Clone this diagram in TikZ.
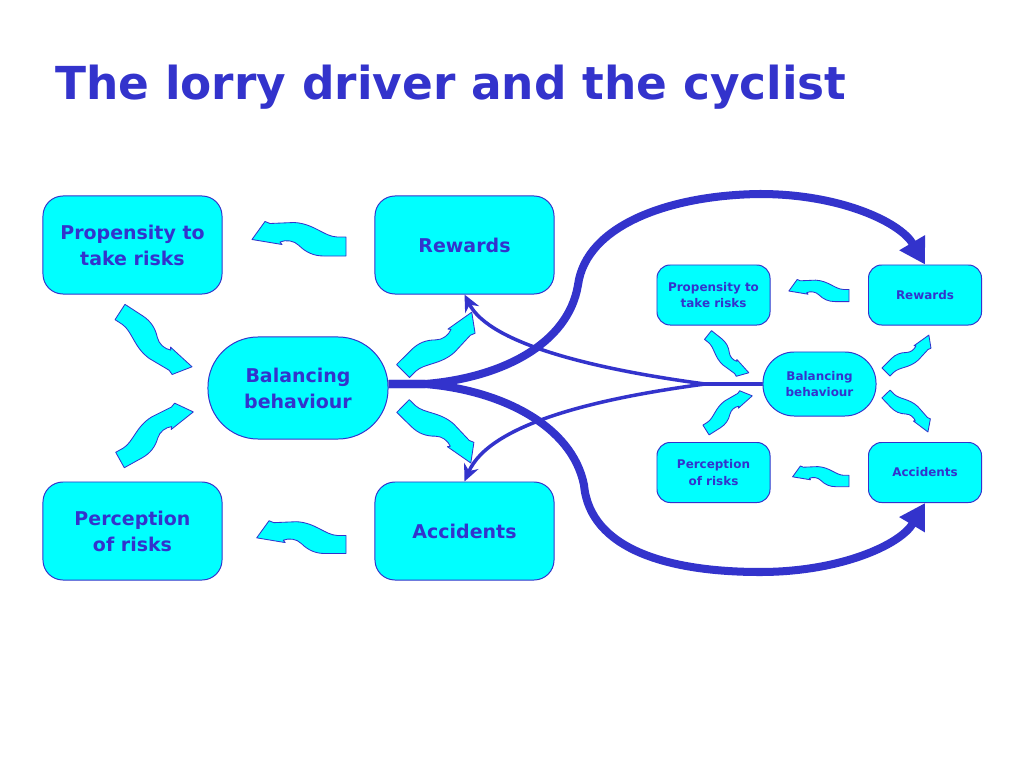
\documentclass[tikz,border=0pt]{standalone}
\usepackage{fontspec}
\setmainfont{DejaVu Sans}
\usetikzlibrary{arrows.meta,calc}
\definecolor{rblue}{RGB}{51,51,204}
\definecolor{rcyan}{RGB}{0,255,255}
\begin{document}
\begin{tikzpicture}[x=0.025cm, y=-0.025cm, line join=round, >=Stealth,
	box/.style={draw=rblue, line width=0.7pt, fill=rcyan, text=rblue, align=center, inner sep=0pt,
		rounded corners=0.5cm, minimum width=4.475cm, minimum height=2.45cm,
		font=\fontsize{13.5}{18.5}\selectfont\bfseries},
	bigbal/.style={box, rounded corners=1.25cm, minimum width=4.5cm, minimum height=2.55cm},
	sbox/.style={box, rounded corners=0.33cm, minimum width=2.825cm, minimum height=1.5cm,
		font=\fontsize{8.5}{11.5}\selectfont\bfseries},
	sbal/.style={sbox, rounded corners=0.78cm, minimum height=1.6cm},
	bigflow/.style={rblue, line width=5.7pt, -{Triangle[length=18pt,width=20pt]}},
	flow/.style={rblue, line width=2.5pt, -{Stealth[length=12pt,width=11pt]}},
	wave/.pic={\filldraw[draw=rblue, fill=rcyan, line width=0.6pt] (0,-9.5) -- (0,9.5) -- (9,9.5)
		.. controls (22,10) and (32,23) .. (52,24) -- (76,23) -- (81,25) -- (94,7) -- (64,2) -- (66,4.5)
		.. controls (60,7) and (52,6) .. (47,1) .. controls (40,-6) and (32,-9.5) .. (22,-9.5) -- cycle;}]
	\fill[white] (0,0) rectangle (1024,768);
	\useasboundingbox (0,0) rectangle (1024,768);
	\node[anchor=base west, inner sep=0pt, text=rblue, font=\fontsize{32.3}{40}\selectfont\bfseries] (title) at (55,100) {The lorry driver and the cyclist};
	% lorry driver
	\node[box] (prop) at (132.5,245) {Propensity to\\take risks};
	\node[box] (rew) at (464.5,245) {Rewards};
	\node[bigbal] (bal) at (298,388) {Balancing\\behaviour};
	\node[box] (perc) at (132.5,531) {Perception\\ of risks};
	\node[box] (acc) at (464.5,531) {Accidents};
	\pic[rotate=180] at (346,246.5) {wave};
	\pic[rotate=-33, scale=.96] at (120,312) {wave};
	\pic[rotate=29, yscale=-1, scale=.93] at (120,460) {wave};
	\pic[rotate=44.8, scale=.96] at (403,371) {wave};
	\pic[rotate=-44.3, yscale=-1, scale=.94] at (403,406) {wave};
	\pic[rotate=180, scale=.95] at (346,544.5) {wave};
	% cyclist
	\node[sbox] (sprop) at (713.5,295) {Propensity to\\take risks};
	\node[sbox] (srew) at (925,295) {Rewards};
	\node[sbal] (sbal) at (819.5,384) {Balancing\\behaviour};
	\node[sbox] (sperc) at (713.5,472.5) {Perception\\ of risks};
	\node[sbox] (sacc) at (925,472.5) {Accidents};
	\pic[rotate=180, scale=.64] at (849,295.5) {wave};
	\pic[rotate=-38.5, scale=.59] at (708,335) {wave};
	\pic[rotate=32.2, yscale=-1, scale=.61] at (706,430) {wave};
	\pic[rotate=45, scale=.6] at (886,372) {wave};
	\pic[rotate=-46.4, yscale=-1, scale=.6] at (886,394) {wave};
	\pic[rotate=180, scale=.6] at (849,481) {wave};
	% links between the two
	\coordinate (fork) at (425,384);
	\coordinate (join) at (705,384);
	\draw[bigflow] (bal.east |- fork) -- (fork) .. controls (500,378) and (568,345) .. (578,285)
		.. controls (586,225) and (670,195) .. (760,194) .. controls (840,194) and (900,222) .. (srew.north);
	\draw[bigflow] (bal.east |- fork) -- (fork) .. controls (500,390) and (572,425) .. (584,485)
		.. controls (590,550) and (670,572) .. (760,572) .. controls (840,572) and (900,545) .. (sacc.south);
	\draw[flow] (sbal.west) -- (join) .. controls (600,370) and (490,345) .. (rew.south);
	\draw[flow] (sbal.west) -- (join) .. controls (600,398) and (490,423) .. (acc.north);
\end{tikzpicture}
\end{document}
